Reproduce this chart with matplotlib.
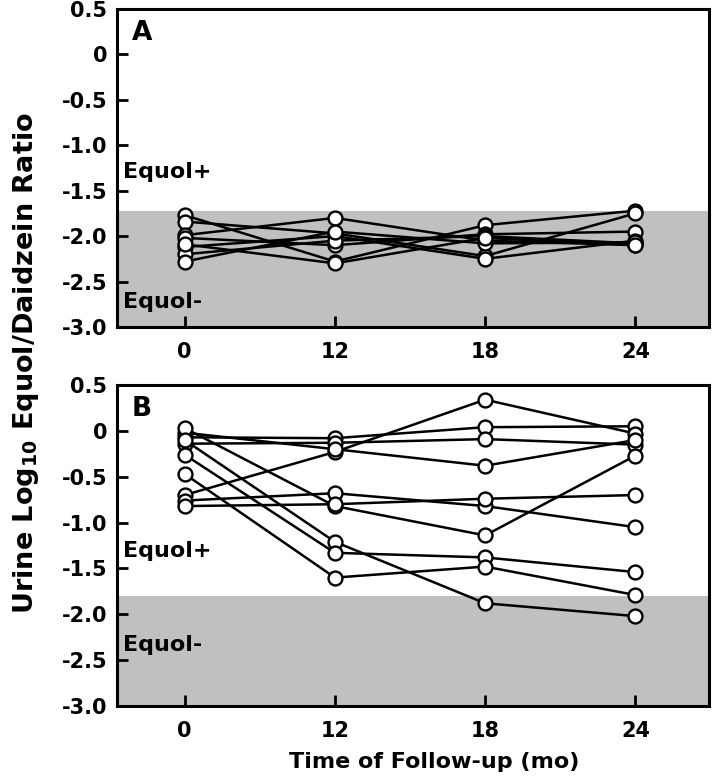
import numpy as np
import matplotlib
matplotlib.use("Agg")
import matplotlib.pyplot as plt

plt.rcParams.update({
    "font.family": "DejaVu Sans",
    "font.weight": "bold",
    "font.size": 13,
})

# -------------------- DATA --------------------
months = ["0", "12", "18", "24"]

# panel A: equol non-producers (log10 equol/daidzein)
a_subjects = [
    [-1.77, -2.28, -1.88, -1.72],
    [-1.84, -1.97, -2.22, -1.75],
    [-1.99, -1.80, -2.05, -2.10],
    [-2.02, -2.10, -1.98, -1.95],
    [-2.12, -2.00, -2.25, -2.05],
    [-2.20, -2.05, -2.00, -2.08],
    [-2.28, -1.95, -2.08, -2.07],
    [-2.09, -2.30, -2.02, -2.10],
]
a_cutoff = -1.72

# panel B: equol producers
b_subjects = [
    [-0.07, -0.08, 0.04, 0.05],
    [-0.14, -0.13, -0.09, -0.15],
    [-0.70, -0.23, 0.34, -0.03],
    [-0.02, -0.20, -0.38, -0.10],
    [0.03, -0.82, -1.14, -0.27],
    [-0.76, -0.68, -0.82, -1.05],
    [-0.82, -0.80, -0.74, -0.70],
    [-0.10, -1.21, -1.88, -2.02],
    [-0.26, -1.33, -1.38, -1.54],
    [-0.47, -1.60, -1.48, -1.79],
]
b_cutoff = -1.80

yticks = [0.5, 0, -0.5, -1.0, -1.5, -2.0, -2.5, -3.0]
ytick_labels = ["0.5", "0", "-0.5", "-1.0", "-1.5", "-2.0", "-2.5", "-3.0"]

# -------------------- FIGURE --------------------
fig = plt.figure(figsize=(7.17, 7.77), dpi=100)
axA = fig.add_axes([0.1632, 0.5792, 0.8257, 0.4093])
axB = fig.add_axes([0.1632, 0.0914, 0.8257, 0.4131])

x = np.arange(len(months))


def draw_panel(ax, subjects, cutoff, letter, plus_y, minus_y):
    ax.axhspan(-3.0, cutoff, color="#c0c0c0", lw=0, zorder=0)
    for s in subjects:
        ax.plot(x, s, color="black", lw=1.8, marker="o", ms=10,
                mfc="white", mec="black", mew=1.7, zorder=3)
    ax.set_xlim(-0.45, 3.49)
    ax.set_ylim(-3.0, 0.5)
    ax.set_xticks(x)
    ax.set_xticklabels(months, fontweight="bold", fontsize=15)
    ax.set_yticks(yticks)
    ax.set_yticklabels(ytick_labels, fontweight="bold", fontsize=15)
    ax.tick_params(direction="in", length=8, width=2, pad=7)
    ax.tick_params(axis="x", pad=11)
    for sp in ax.spines.values():
        sp.set_linewidth(2.2)
    ax.text(0.025, 0.925, letter, transform=ax.transAxes, fontsize=19,
            fontweight="bold", va="center", ha="left")
    ax.text(-0.41, plus_y, "Equol+", fontsize=16, fontweight="bold",
            va="center", ha="left")
    ax.text(-0.41, minus_y, "Equol-", fontsize=16, fontweight="bold",
            va="center", ha="left")


draw_panel(axA, a_subjects, a_cutoff, "A", -1.29, -2.72)
draw_panel(axB, b_subjects, b_cutoff, "B", -1.31, -2.33)

fig.text(0.036, 0.533, r"Urine Log$_{\mathbf{10}}$ Equol/Daidzein Ratio",
         rotation=90, fontsize=19.5, fontweight="bold", ha="center", va="center")
fig.text(434 / 717, 1 - 762 / 777, "Time of Follow-up (mo)",
         fontsize=16, fontweight="bold", ha="center", va="center")

plt.savefig("out.png", dpi=100)
